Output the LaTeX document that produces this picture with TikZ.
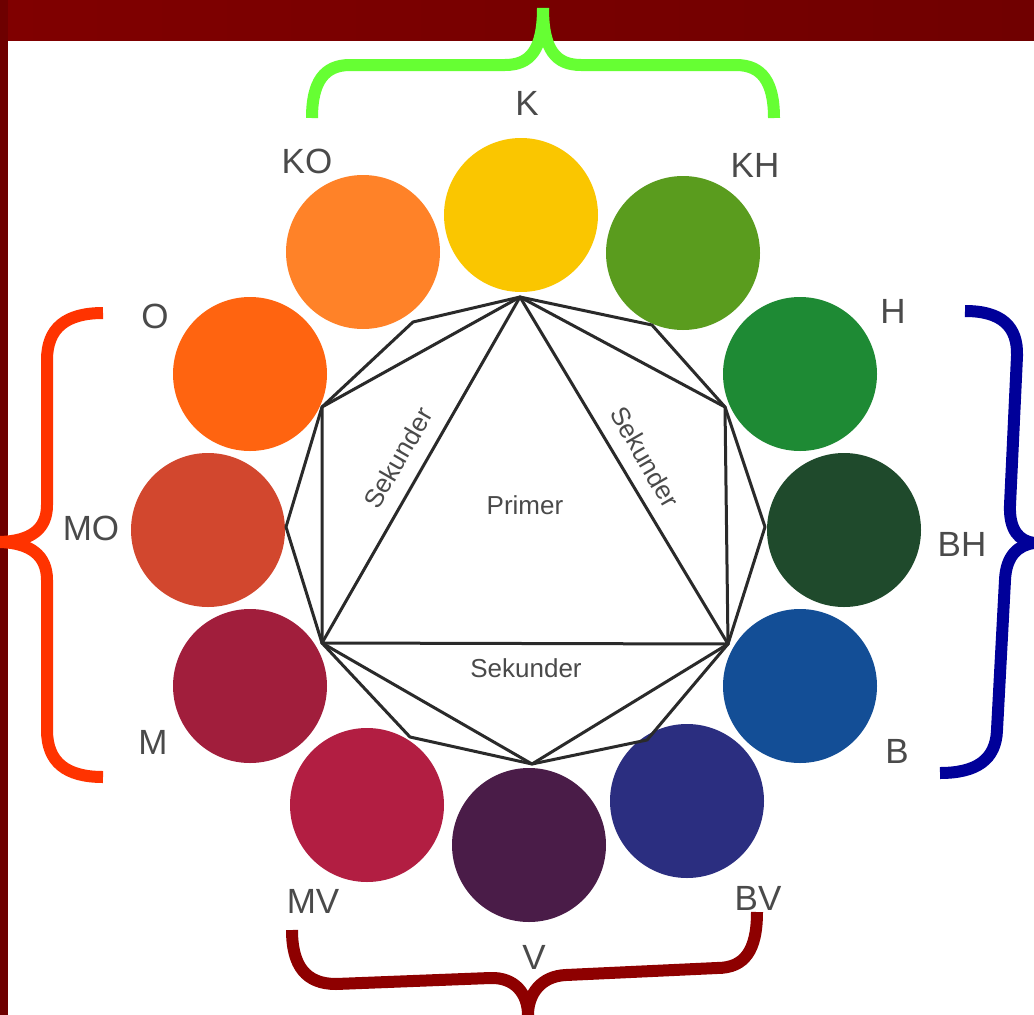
\documentclass[tikz,border=0pt]{standalone}
\usepackage{fontspec}
\setmainfont{Liberation Sans}
\definecolor{bandred}{HTML}{800000}
\definecolor{bandred2}{HTML}{700000}
\definecolor{stripred}{HTML}{6E0000}
\definecolor{brGreen}{HTML}{66FF33}
\definecolor{brRed}{HTML}{FF3300}
\definecolor{brBlue}{HTML}{000099}
\definecolor{brDark}{HTML}{8E0000}
\definecolor{labgrey}{HTML}{4A4A4A}
\definecolor{linegrey}{HTML}{2A2A2A}
\definecolor{cK}{HTML}{FAC600}
\definecolor{cKH}{HTML}{5A9C1E}
\definecolor{cH}{HTML}{1E8A34}
\definecolor{cBH}{HTML}{1F4A2C}
\definecolor{cB}{HTML}{134E96}
\definecolor{cBV}{HTML}{2B2E80}
\definecolor{cV}{HTML}{4A1C48}
\definecolor{cMV}{HTML}{B21E42}
\definecolor{cM}{HTML}{A11E3C}
\definecolor{cMO}{HTML}{D2472E}
\definecolor{cO}{HTML}{FF6410}
\definecolor{cKO}{HTML}{FF8228}
\begin{document}
\begin{tikzpicture}[x=1pt,y=-1pt,
  disc/.style={circle,minimum size=154pt,inner sep=0pt,draw=none},
  lab/.style={text=labgrey,font=\fontsize{35}{40}\selectfont,inner sep=0pt},
  inlab/.style={text=labgrey,font=\fontsize{26}{30}\selectfont,inner sep=0pt},
  web/.style={draw=linegrey,line width=3pt,line join=round},
  brace/.style={line width=12pt,line cap=butt}]
\useasboundingbox (0,0) rectangle (1034,1015);
\fill[white] (0,0) rectangle (1034,1015);
% frame bands
\shade[left color=bandred,right color=bandred2] (0,0) rectangle (1034,40);
\fill[stripred] (0,0) rectangle (8,1015);
% colour discs
\node[disc,fill=cK]  (dK)  at (521,215) {};
\node[disc,fill=cKH] (dKH) at (683,253) {};
\node[disc,fill=cH]  (dH)  at (800,374) {};
\node[disc,fill=cBH] (dBH) at (844,530) {};
\node[disc,fill=cB]  (dB)  at (800,686) {};
\node[disc,fill=cBV] (dBV) at (687,801) {};
\node[disc,fill=cV]  (dV)  at (529,845) {};
\node[disc,fill=cMV] (dMV) at (367,805) {};
\node[disc,fill=cM]  (dM)  at (250,686) {};
\node[disc,fill=cMO] (dMO) at (208,530) {};
\node[disc,fill=cO]  (dO)  at (250,374) {};
\node[disc,fill=cKO] (dKO) at (363,252) {};
% polygon vertices
\coordinate (pK)  at (520,297);
\coordinate (pKH) at (652,325);
\coordinate (pH)  at (725,407);
\coordinate (pBH) at (765,527);
\coordinate (pB)  at (728,644);
\coordinate (pBV) at (647,740);
\coordinate (pV)  at (532,764);
\coordinate (pMV) at (410,737);
\coordinate (pM)  at (322,643);
\coordinate (pMO) at (286,527);
\coordinate (pO)  at (322,407);
\coordinate (pKO) at (413,322);
% twelve-sided outline
\draw[web] (pK) -- (pKH) -- (pH) -- (pBH) -- (pB) -- (pBV) -- (pV) -- (pMV) -- (pM) -- (pMO) -- (pO) -- (pKO) -- cycle;
% hexagon
\draw[web] (pK) -- (pH) -- (pB) -- (pV) -- (pM) -- (pO) -- cycle;
% primary triangle
\draw[web] (pK) -- (pB) -- (pM) -- cycle;
% inner texts
\node[inlab] (tPrimer) at (525,505) {Primer};
\node[inlab,rotate=60] (tSekL) at (398,458) {Sekunder};
\node[inlab,rotate=-60] (tSekR) at (645,457) {Sekunder};
\node[inlab] (tSekB) at (526,668) {Sekunder};
% labels
\node[lab] (lK)  at (527,103) {K};
\node[lab] (lKH) at (755,165) {KH};
\node[lab] (lH)  at (893,311) {H};
\node[lab] (lBH) at (962,544) {BH};
\node[lab] (lB)  at (897,751) {B};
\node[lab] (lBV) at (758,898) {BV};
\node[lab] (lV)  at (534,957) {V};
\node[lab] (lMV) at (313,901) {MV};
\node[lab] (lM)  at (153,742) {M};
\node[lab] (lMO) at (91,528) {MO};
\node[lab] (lO)  at (155,316) {O};
\node[lab] (lKO) at (307,161) {KO};
% braces
\draw[brace,brGreen] (312,118) .. controls (312,82) and (324,65) .. (350,65) -- (505,65) .. controls (530,65) and (543,50) .. (543,8);
\draw[brace,brGreen] (774,118) .. controls (774,82) and (762,65) .. (736,65) -- (581,65) .. controls (556,65) and (543,50) .. (543,8);
\draw[brace,brRed] (103,313) .. controls (66,313) and (47,328) .. (47,360) -- (47,505) .. controls (47,530) and (30,541) .. (0,542);
\draw[brace,brRed] (103,777) .. controls (66,777) and (47,762) .. (47,730) -- (47,580) .. controls (47,555) and (30,543) .. (0,542);
\draw[brace,brBlue] (965,311) .. controls (1001,311) and (1018,326) .. (1017,356) -- (1010,505) .. controls (1009,530) and (1019,541) .. (1034,543);
\draw[brace,brBlue] (940,773) .. controls (976,773) and (996,760) .. (997,730) -- (1005,580) .. controls (1006,556) and (1018,545) .. (1034,543);
\draw[brace,brDark] (292,930) .. controls (292,966) and (306,984) .. (336,984) -- (490,978) .. controls (515,977) and (528,994) .. (528,1015);
\draw[brace,brDark] (757,912) .. controls (757,950) and (745,968) .. (717,968) -- (566,975) .. controls (541,976) and (528,994) .. (528,1015);
\end{tikzpicture}
\end{document}
